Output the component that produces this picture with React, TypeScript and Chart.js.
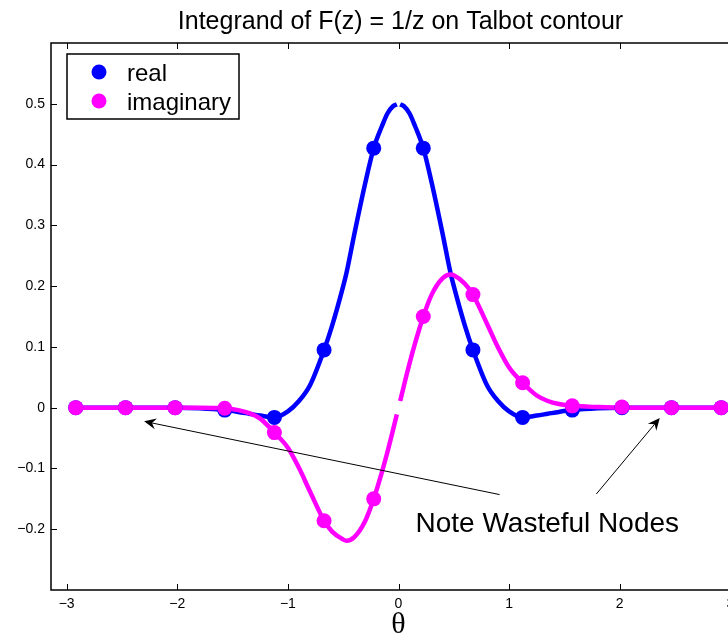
import React, { useEffect, useRef } from "react";
import { Chart, registerables } from "chart.js";

Chart.register(...registerables);

// ---- data ----
const thetaLine = [
  -2.918, -2.468, -2.02, -1.8, -1.571, -1.45, -1.35, -1.25, -1.122, -1.0, -0.9, -0.8,
  -0.673, -0.6, -0.5, -0.47, -0.4, -0.3, -0.224, -0.15, -0.1, -0.05, -0.015, 0,
  0.015, 0.05, 0.1, 0.15, 0.224, 0.3, 0.4, 0.47, 0.5, 0.6, 0.673, 0.8, 0.9, 1.0,
  1.122, 1.25, 1.35, 1.45, 1.571, 1.8, 2.02, 2.468, 2.918,
];
const realLine = [
  0, 0, 0, -0.001, -0.004, -0.007, -0.010, -0.013, -0.016, -0.006, 0.011, 0.037,
  0.095, 0.135, 0.200, 0.222, 0.285, 0.370, 0.427, 0.463, 0.484, 0.496, 0.499, null,
  0.499, 0.496, 0.484, 0.463, 0.427, 0.370, 0.285, 0.222, 0.200, 0.135, 0.095, 0.037, 0.011, -0.006,
  -0.016, -0.013, -0.010, -0.007, -0.004, -0.001, 0, 0, 0,
];
const imagLine = [
  0, 0, 0, 0, -0.001, -0.004, -0.009, -0.018, -0.041, -0.066, -0.099, -0.138,
  -0.186, -0.204, -0.217, -0.219, -0.213, -0.186, -0.150, -0.106, -0.073, -0.037, -0.011, null,
  0.011, 0.037, 0.073, 0.106, 0.150, 0.186, 0.213, 0.219, 0.218, 0.204, 0.186, 0.138, 0.099, 0.066,
  0.041, 0.020, 0.011, 0.006, 0.003, 0.001, 0, 0, 0,
];
const nodeTheta = [
  -2.918, -2.468, -2.02, -1.571, -1.122, -0.673, -0.224, 0.224, 0.673, 1.122, 1.571, 2.02, 2.468, 2.918,
];
const realNodes = [0, 0, 0, -0.004, -0.016, 0.095, 0.427, 0.427, 0.095, -0.016, -0.004, 0, 0, 0];
const imagNodes = [0, 0, 0, -0.001, -0.041, -0.186, -0.150, 0.150, 0.186, 0.041, 0.003, 0.001, 0, 0];

const xTicks = [-3, -2, -1, 0, 1, 2, 3];
const yTicks = [-0.2, -0.1, 0, 0.1, 0.2, 0.3, 0.4, 0.5];

const titleText = "Integrand of F(z) = 1/z on Talbot contour";
const xLabel = "\u03B8";
const legendLabels = ["real", "imaginary"];
const noteText = "Note Wasteful Nodes";
// annotation anchors (data coordinates)
const noteAnchor = { x: 0.154, y: -0.204 };
const arrows = [
  { from: { x: 0.914, y: -0.143 }, to: { x: -2.3, y: -0.0225 } },
  { from: { x: 1.789, y: -0.142 }, to: { x: 2.362, y: -0.017 } },
];

const BLUE = "#0000ff";
const MAG = "#ff00ff";
const SANS = '"Liberation Sans", Arial, Helvetica, sans-serif';

const fmt = (v: number) => {
  const r = Math.round(v * 10) / 10;
  if (r === 0) return "0";
  const s = Math.abs(r).toString();
  return r < 0 ? "\u2212" + s : s;
};

const toXY = (xs: number[], ys: (number | null)[]) => xs.map((x, i) => ({ x, y: ys[i] }));

const decor = {
  id: "decor",
  afterDraw(chart: any) {
    const { ctx, chartArea: a, scales } = chart;
    const xs = scales.x;
    const ys = scales.y;
    ctx.save();
    ctx.strokeStyle = "#000";
    ctx.fillStyle = "#000";

    // frame
    ctx.lineWidth = 1.5;
    ctx.strokeRect(a.left, a.top, a.right - a.left, a.bottom - a.top);

    // inward tick marks
    ctx.lineWidth = 1;
    const tl = 6;
    const seg = (x1: number, y1: number, x2: number, y2: number) => {
      ctx.beginPath();
      ctx.moveTo(x1, y1);
      ctx.lineTo(x2, y2);
      ctx.stroke();
    };
    xTicks.forEach((v) => {
      const px = Math.round(xs.getPixelForValue(v)) + 0.5;
      seg(px, a.bottom, px, a.bottom - tl);
      seg(px, a.top, px, a.top + tl);
    });
    yTicks.forEach((v) => {
      const py = Math.round(ys.getPixelForValue(v)) + 0.5;
      seg(a.left, py, a.left + tl, py);
      seg(a.right, py, a.right - tl, py);
    });

    const cx = (a.left + a.right) / 2;
    // title
    ctx.font = "25px " + SANS;
    ctx.textAlign = "center";
    ctx.textBaseline = "alphabetic";
    ctx.fillText(titleText, cx + 2, 29);

    // x label
    ctx.font = '30px "Liberation Serif", "Times New Roman", serif';
    ctx.fillText(xLabel, cx, 633);

    // legend
    const lx = a.left + 16;
    const ly = a.top + 11;
    ctx.fillStyle = "#fff";
    ctx.fillRect(lx, ly, 172, 65);
    ctx.lineWidth = 1.5;
    ctx.strokeStyle = "#000";
    ctx.strokeRect(lx, ly, 172, 65);
    const cols = [BLUE, MAG];
    ctx.font = "24px " + SANS;
    ctx.textAlign = "left";
    legendLabels.forEach((lab, i) => {
      const my = ly + 18 + i * 29;
      ctx.fillStyle = cols[i];
      ctx.beginPath();
      ctx.arc(lx + 32, my, 7.5, 0, Math.PI * 2);
      ctx.fill();
      ctx.fillStyle = "#000";
      ctx.fillText(lab, lx + 60, my + 9);
    });

    // annotation text
    ctx.font = "28px " + SANS;
    ctx.fillStyle = "#000";
    ctx.fillText(noteText, xs.getPixelForValue(noteAnchor.x), ys.getPixelForValue(noteAnchor.y));

    // arrows
    ctx.lineWidth = 1;
    arrows.forEach(({ from, to }) => {
      const x1 = xs.getPixelForValue(from.x);
      const y1 = ys.getPixelForValue(from.y);
      const x2 = xs.getPixelForValue(to.x);
      const y2 = ys.getPixelForValue(to.y);
      const ang = Math.atan2(y2 - y1, x2 - x1);
      const L = 12;
      const W = 5.5;
      const notch = 8;
      const bx = x2 - Math.cos(ang) * L;
      const by = y2 - Math.sin(ang) * L;
      const nx = x2 - Math.cos(ang) * notch;
      const ny = y2 - Math.sin(ang) * notch;
      seg(x1, y1, nx, ny);
      ctx.beginPath();
      ctx.moveTo(x2, y2);
      ctx.lineTo(bx + Math.sin(ang) * W, by - Math.cos(ang) * W);
      ctx.lineTo(nx, ny);
      ctx.lineTo(bx - Math.sin(ang) * W, by + Math.cos(ang) * W);
      ctx.closePath();
      ctx.fill();
    });

    ctx.restore();
  },
};

export default function App() {
  const ref = useRef<HTMLCanvasElement | null>(null);

  useEffect(() => {
    if (!ref.current) return;
    const lineOpts = {
      pointRadius: 0,
      borderWidth: 4.5,
      showLine: true,
      cubicInterpolationMode: "monotone" as const,
      spanGaps: false,
      fill: false,
    };
    const nodeOpts = {
      pointRadius: 7.5,
      pointBorderWidth: 0,
      showLine: false,
      pointHoverRadius: 7.5,
    };
    const chart = new Chart(ref.current, {
      type: "scatter",
      data: {
        datasets: [
          {
            label: "imaginary nodes",
            data: toXY(nodeTheta, imagNodes),
            backgroundColor: MAG,
            borderColor: MAG,
            order: 0,
            ...nodeOpts,
          },
          {
            label: "real nodes",
            data: toXY(nodeTheta, realNodes),
            backgroundColor: BLUE,
            borderColor: BLUE,
            order: 1,
            ...nodeOpts,
          },
          {
            label: "imaginary",
            data: toXY(thetaLine, imagLine),
            borderColor: MAG,
            backgroundColor: MAG,
            order: 2,
            ...lineOpts,
          },
          {
            label: "real",
            data: toXY(thetaLine, realLine),
            borderColor: BLUE,
            backgroundColor: BLUE,
            order: 3,
            ...lineOpts,
          },
        ],
      },
      options: {
        responsive: false,
        animation: false,
        events: [],
        layout: { padding: { left: 0, right: 54, top: 43, bottom: 0 } },
        plugins: {
          legend: { display: false },
          tooltip: { enabled: false },
          title: { display: false },
        },
        scales: {
          x: {
            type: "linear",
            min: -Math.PI,
            max: Math.PI,
            grid: { display: false, drawTicks: false },
            border: { display: false },
            afterBuildTicks: (s: any) => {
              s.ticks = xTicks.map((v) => ({ value: v }));
            },
            afterFit: (s: any) => {
              s.height = 46;
            },
            ticks: {
              color: "#000",
              font: { family: SANS, size: 14 },
              padding: 6,
              maxRotation: 0,
              autoSkip: false,
              callback: (v: any) => fmt(Number(v)),
            },
          },
          y: {
            type: "linear",
            min: -0.3,
            max: 0.6,
            grid: { display: false, drawTicks: false },
            border: { display: false },
            afterBuildTicks: (s: any) => {
              s.ticks = yTicks.map((v) => ({ value: v }));
            },
            afterFit: (s: any) => {
              s.width = 51;
            },
            ticks: {
              color: "#000",
              font: { family: SANS, size: 14 },
              padding: 6,
              autoSkip: false,
              callback: (v: any) => fmt(Number(v)),
            },
          },
        },
      },
      plugins: [decor],
    });
    return () => chart.destroy();
  }, []);

  return (
    <div
      style={{
        position: "fixed",
        left: 0,
        top: 0,
        width: 728,
        height: 636,
        overflow: "hidden",
        background: "#fff",
      }}
    >
      <canvas ref={ref} width={800} height={636} style={{ display: "block", width: 800, height: 636 }} />
    </div>
  );
}
